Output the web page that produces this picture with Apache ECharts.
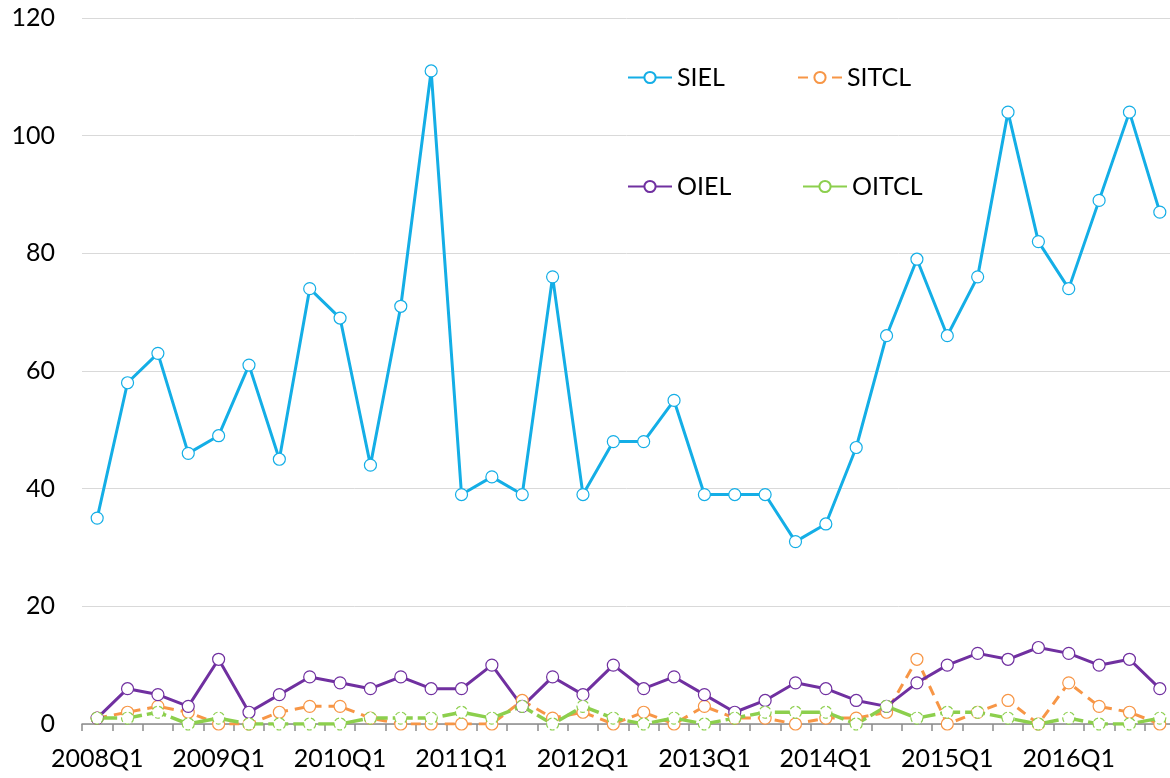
<!DOCTYPE html>
<html><head><meta charset="utf-8">
<script src="https://cdn.jsdelivr.net/npm/echarts@6/dist/echarts.min.js"></script>
<style>html,body{margin:0;padding:0;background:#fff}#c{width:1170px;height:778px}</style>
</head><body><div id="c"></div>
<script>
const categories = ['2008Q1','2008Q2','2008Q3','2008Q4','2009Q1','2009Q2','2009Q3','2009Q4',
'2010Q1','2010Q2','2010Q3','2010Q4','2011Q1','2011Q2','2011Q3','2011Q4',
'2012Q1','2012Q2','2012Q3','2012Q4','2013Q1','2013Q2','2013Q3','2013Q4',
'2014Q1','2014Q2','2014Q3','2014Q4','2015Q1','2015Q2','2015Q3','2015Q4',
'2016Q1','2016Q2','2016Q3','2016Q4'];
const SIEL  = [35,58,63,46,49,61,45,74,69,44,71,111,39,42,39,76,39,48,48,55,39,39,39,31,34,47,66,79,66,76,104,82,74,89,104,87];
const SITCL = [1,2,3,2,0,0,2,3,3,1,0,0,0,0,4,1,2,0,2,0,3,1,1,0,1,1,2,11,0,2,4,0,7,3,2,0];
const OIEL  = [1,6,5,3,11,2,5,8,7,6,8,6,6,10,3,8,5,10,6,8,5,2,4,7,6,4,3,7,10,12,11,13,12,10,11,6];
const OITCL = [1,1,2,0,1,0,0,0,0,1,1,1,2,1,3,0,3,1,0,1,0,1,2,2,2,0,3,1,2,2,1,0,1,0,0,1];
const yTicks = [0,20,40,60,80,100,120];

const FONT = 'Lato';
const chart = echarts.init(document.getElementById('c'), null, {renderer:'canvas'});
function mk(name, data, color, lineType, symBorderType, w){
  return {name, type:'line', data, symbol:'circle', symbolSize:12,
    lineStyle:{color, width:w||3, type:lineType},
    itemStyle:{color:'#fff', borderColor:color, borderWidth:1.2, borderType:symBorderType||'solid', opacity:1},
    emphasis:{disabled:true}, animation:false};
}
const colors = {SIEL:'#14aee6', SITCL:'#f79646', OIEL:'#7030a0', OITCL:'#8ccf4d'};
function lg(name, left, top){
  return {data:[name], left, top, itemWidth:44, itemHeight:14, itemGap:0,
    textStyle:{fontFamily:FONT, fontSize:25, color:'#000'}, selectedMode:false};
}
chart.setOption({
  animation:false,
  grid:{left:82, width:1093, top:18, height:706, containLabel:false, outerBoundsMode:'none'},
  legend:[lg('SIEL',622,60), lg('SITCL',792,60), lg('OIEL',622,169), lg('OITCL',797,169)],
  xAxis:{type:'category', data:categories, boundaryGap:true,
    axisLine:{lineStyle:{color:'#8c8c8c', width:1.5}},
    axisTick:{show:true, interval:0, length:7, lineStyle:{color:'#8c8c8c', width:1.5}},
    axisLabel:{interval:3, margin:22, fontFamily:FONT, fontSize:25, color:'#000'}},
  yAxis:{type:'value', min:0, max:120, interval:20,
    axisLine:{show:false}, axisTick:{show:false},
    splitLine:{lineStyle:{color:'#d9d9d9', width:1}},
    axisLabel:{margin:27, fontFamily:FONT, fontSize:25, color:'#000',
      formatter:v=>yTicks.includes(v)?String(v):''}},
  series:[
    mk('SIEL', SIEL, colors.SIEL, 'solid'),
    mk('SITCL', SITCL, colors.SITCL, [10,7]),
    mk('OIEL', OIEL, colors.OIEL, 'solid'),
    mk('OITCL', OITCL, colors.OITCL, [20,5], 'dashed', 3.5)
  ]
});
</script></body></html>
